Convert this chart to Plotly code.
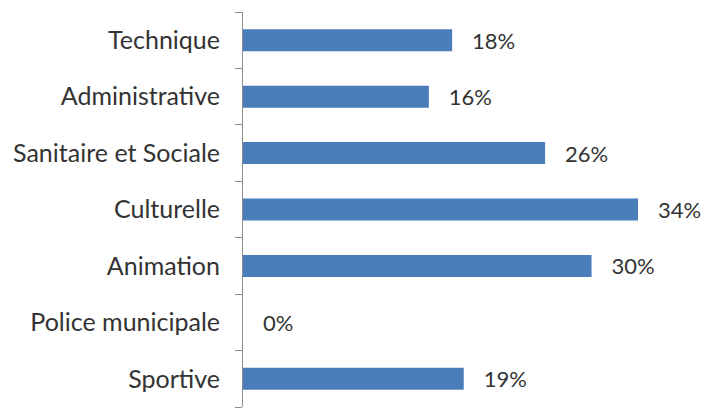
import plotly.graph_objects as go

categories = ["Technique", "Administrative", "Sanitaire et Sociale", "Culturelle",
              "Animation", "Police municipale", "Sportive"]
values = [18, 16, 26, 34, 30, 0, 19]

# boundaries between category bands, used for the tick marks
n = len(categories)
boundaries = [i - 0.5 for i in range(n + 1)]

fig = go.Figure()

fig.add_trace(go.Bar(
    x=values,
    y=categories,
    orientation='h',
    marker=dict(color='#4A7EBB', line=dict(width=0)),
    text=[f"{v}%" for v in values],
    texttemplate='   %{text}',
    textposition='outside',
    constraintext='none',
    textfont=dict(family='Lato, Noto Sans, sans-serif', size=22, color='#333333'),
    cliponaxis=False,
))

fig.update_layout(
    width=706,
    height=408,
    margin=dict(l=243, r=0, t=12, b=1, autoexpand=False),
    paper_bgcolor='white',
    plot_bgcolor='white',
    bargap=0.61,
    showlegend=False,
    font=dict(family='Lato, Noto Sans, sans-serif', size=25, color='#333333'),
    xaxis=dict(range=[0, 39.85], visible=False, fixedrange=True),
    yaxis=dict(
        autorange='reversed',
        automargin=False,
        showline=True,
        linecolor='#8C8C8C',
        linewidth=1,
        ticks='',
        ticklabelstandoff=17,
        showgrid=False,
        fixedrange=True,
    ),
    yaxis2=dict(
        overlaying='y',
        side='left',
        range=[n - 0.5, -0.5],
        tickvals=boundaries,
        ticks='outside',
        ticklen=7,
        tickwidth=1,
        tickcolor='#8C8C8C',
        showticklabels=False,
        showgrid=False,
        zeroline=False,
        showline=False,
        automargin=False,
        fixedrange=True,
    ),
)

# invisible trace so the tick axis is drawn
fig.add_trace(go.Scatter(x=[0], y=[0], yaxis='y2', mode='markers',
                         marker=dict(opacity=0), hoverinfo='skip'))

fig.write_html("out.html", config={'displayModeBar': False},
               post_script="document.body.style.margin='0';")
